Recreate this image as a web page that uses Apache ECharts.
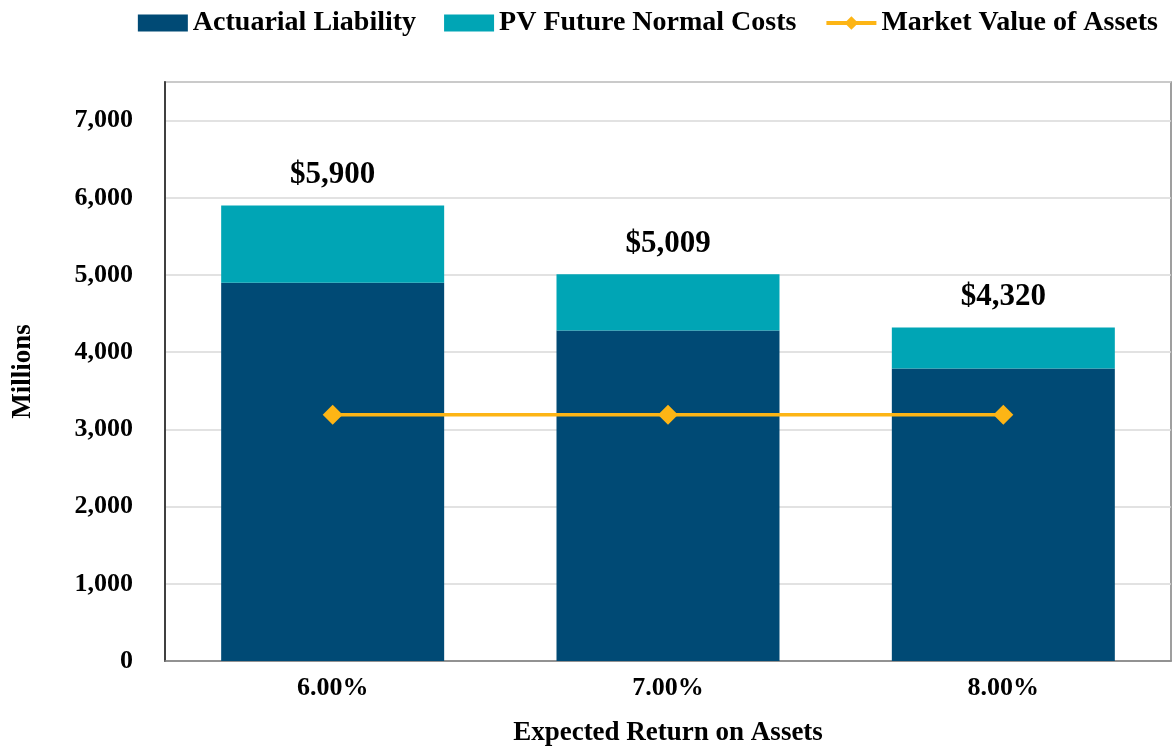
<!DOCTYPE html>
<html><head><meta charset="utf-8">
<script src="https://cdn.jsdelivr.net/npm/echarts@6/dist/echarts.min.js"></script>
<style>html,body{margin:0;padding:0;background:#fff}#c{width:1173px;height:749px}</style>
</head><body><div id="c"></div>
<script>
const categories = ['6.00%', '7.00%', '8.00%'];
const actuarialLiability = [4900, 4280, 3790];
const pvFutureNormalCosts = [1000, 729, 530];
const marketValueOfAssets = [3190, 3190, 3190];
const totalLabels = ['$5,900', '$5,009', '$4,320'];
const yTicks = [0, 1000, 2000, 3000, 4000, 5000, 6000, 7000];

const FONT = '"Liberation Serif", "Times New Roman", serif';
const chart = echarts.init(document.getElementById('c'), null, {renderer: 'canvas'});
chart.setOption({
  animation: false,
  textStyle: {fontFamily: FONT},
  legend: {
    top: 4, right: 10, itemGap: 28, itemWidth: 50, itemHeight: 17,
    textStyle: {fontFamily: FONT, fontWeight: 'bold', fontSize: 28, color: '#000'},
    data: [
      {name: 'Actuarial Liability', icon: 'rect'},
      {name: 'PV Future Normal Costs', icon: 'rect'},
      {name: 'Market Value of Assets', lineStyle: {width: 4}}
    ]
  },
  grid: {left: 165, right: 2, top: 82, bottom: 88, show: true, borderColor: '#808080', borderWidth: 1.5, outerBoundsMode: 'none'},
  xAxis: {
    type: 'category', data: categories,
    name: 'Expected Return on Assets', nameLocation: 'middle', nameGap: 59,
    nameTextStyle: {fontFamily: FONT, fontWeight: 'bold', fontSize: 27, color: '#000'},
    axisLine: {lineStyle: {color: '#808080', width: 1.5}},
    axisTick: {show: false},
    axisLabel: {fontFamily: FONT, fontWeight: 'bold', fontSize: 26, color: '#000', margin: 14}
  },
  yAxis: {
    type: 'value', min: 0, max: 7500, interval: 1000,
    name: 'Millions', nameLocation: 'middle', nameGap: 128, nameRotate: 90,
    nameTextStyle: {fontFamily: FONT, fontWeight: 'bold', fontSize: 27, color: '#000'},
    axisLine: {show: true, lineStyle: {color: '#404040', width: 2}},
    axisTick: {show: false},
    splitLine: {lineStyle: {color: '#d9d9d9', width: 1.5}},
    axisLabel: {
      fontFamily: FONT, fontWeight: 'bold', fontSize: 26, color: '#000', margin: 32,
      showMaxLabel: false,
      formatter: v => yTicks.includes(v) ? v.toLocaleString('en-US') : ''
    }
  },
  series: [
    {
      name: 'Actuarial Liability', type: 'bar', stack: 'total', data: actuarialLiability,
      barWidth: '66.5%', itemStyle: {color: '#004A75'}
    },
    {
      name: 'PV Future Normal Costs', type: 'bar', stack: 'total', data: pvFutureNormalCosts,
      itemStyle: {color: '#00A5B5'},
      label: {
        show: true, position: 'top', distance: 15,
        formatter: p => totalLabels[p.dataIndex],
        fontFamily: FONT, fontWeight: 'bold', fontSize: 31, color: '#000'
      }
    },
    {
      name: 'Market Value of Assets', type: 'line', data: marketValueOfAssets,
      symbol: 'diamond', symbolSize: 20,
      lineStyle: {color: '#FDB515', width: 3.5},
      itemStyle: {color: '#FDB515'}
    }
  ]
});
</script></body></html>
